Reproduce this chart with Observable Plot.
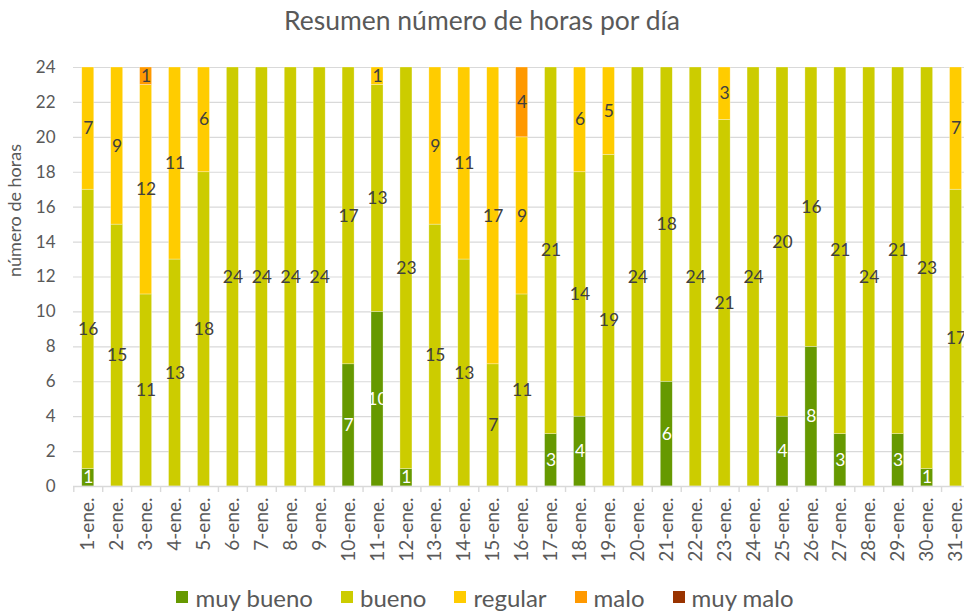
<!DOCTYPE html>
<html>
<head>
<meta charset="utf-8">
<script src="https://cdn.jsdelivr.net/npm/d3@7"></script>
<script src="https://cdn.jsdelivr.net/npm/@observablehq/plot@0.6"></script>
<style>
  body { margin: 0; background: #fff; font-family: Lato, "Open Sans", sans-serif; }
  #title { height: 50px; line-height: 40px; text-align: center; font-size: 26.5px; color: #595959; }
  #legend { display: flex; justify-content: center; align-items: center; gap: 28px; height: 34px; font-size: 24px; color: #595959; padding-left: 6px; }
  #legend .item { display: flex; align-items: center; gap: 7px; }
  #legend .sw { width: 12px; height: 12px; display: inline-block; }
</style>
</head>
<body>
<div id="title">Resumen número de horas por día</div>
<div id="chart"></div>
<div id="legend"></div>
<script>
const days = d3.range(1, 32).map(d => d + "-ene.");
const series = ["muy bueno", "bueno", "regular", "malo", "muy malo"];
const colors = ["#669900", "#CCCC00", "#FFCC00", "#FF9900", "#993300"];
const muyBueno = [1,0,0,0,0,0,0,0,0,7,10,1,0,0,0,0,3,4,0,0,6,0,0,0,4,8,3,0,3,1,0];
const bueno    = [16,15,11,13,18,24,24,24,24,17,13,23,15,13,7,11,21,14,19,24,18,24,21,24,20,16,21,24,21,23,17];
const regular  = [7,9,12,11,6,0,0,0,0,0,1,0,9,11,17,9,0,6,5,0,0,0,3,0,0,0,0,0,0,0,7];
const malo     = [0,0,1,0,0,0,0,0,0,0,0,0,0,0,0,4,0,0,0,0,0,0,0,0,0,0,0,0,0,0,0];
const muyMalo  = [0,0,0,0,0,0,0,0,0,0,0,0,0,0,0,0,0,0,0,0,0,0,0,0,0,0,0,0,0,0,0];
const yTicks = d3.range(0, 25, 2);
const yLabel = "número de horas";

const values = [muyBueno, bueno, regular, malo, muyMalo];
const rows = [];
days.forEach((day, i) => {
  let acc = 0;
  series.forEach((s, j) => {
    const v = values[j][i];
    if (v > 0) {
      rows.push({day, series: s, value: v, y1: acc, y2: acc + v, mid: acc + v / 2});
      acc += v;
    }
  });
});

const width = 964, marginLeft = 73;
const xRange = [73.3, 970];
const step = (xRange[1] - xRange[0]) / days.length;

const chart = Plot.plot({
  width,
  height: 530,
  marginLeft,
  marginRight: 0,
  marginTop: 17,
  marginBottom: 94,
  style: {fontFamily: "Lato, sans-serif", fontSize: "16px", color: "#595959", overflow: "visible"},
  x: {domain: days, range: xRange, round: false, paddingInner: 0.585, paddingOuter: 0.2925, axis: null},
  y: {domain: [0, 24], axis: null},
  color: {domain: series, range: colors},
  marks: [
    Plot.ruleY(yTicks.filter(d => d > 0), {stroke: "#d9d9d9", strokeWidth: 1.2}),
    Plot.barY(rows, {x: "day", y1: "y1", y2: "y2", fill: "series", stroke: "#ffffff", strokeOpacity: 0.5, strokeWidth: 0.6}),
    Plot.ruleY([0], {stroke: "#d9d9d9", strokeWidth: 1.6}),
    Plot.text(rows.filter(d => d.series !== "muy bueno"), {x: "day", y: "mid", text: "value", fill: "#404040", fontSize: 17.5}),
    Plot.text(rows.filter(d => d.series === "muy bueno"), {x: "day", y: "mid", text: "value", fill: "#ffffff", fontSize: 17.5}),
    Plot.axisY({ticks: yTicks, tickSize: 0, tickPadding: 18, fontSize: 17, label: null, fill: "#595959"}),
    Plot.axisX({tickSize: 6, text: null, dx: -step / 2, stroke: "#d9d9d9", strokeWidth: 1.4, label: null}),
    Plot.axisX({tickSize: 0, tickRotate: -90, tickPadding: 11, fontSize: 19, label: null, fill: "#595959"}),
    Plot.text([yLabel], {frameAnchor: "left", dx: -58, rotate: -90, text: d => d, fontSize: 18, fill: "#595959"})
  ]
});
document.getElementById("chart").appendChild(chart);

const legend = document.getElementById("legend");
series.forEach((s, i) => {
  const item = document.createElement("div");
  item.className = "item";
  const sw = document.createElement("span");
  sw.className = "sw";
  sw.style.background = colors[i];
  const t = document.createElement("span");
  t.textContent = s;
  item.appendChild(sw);
  item.appendChild(t);
  legend.appendChild(item);
});
</script>
</body>
</html>
